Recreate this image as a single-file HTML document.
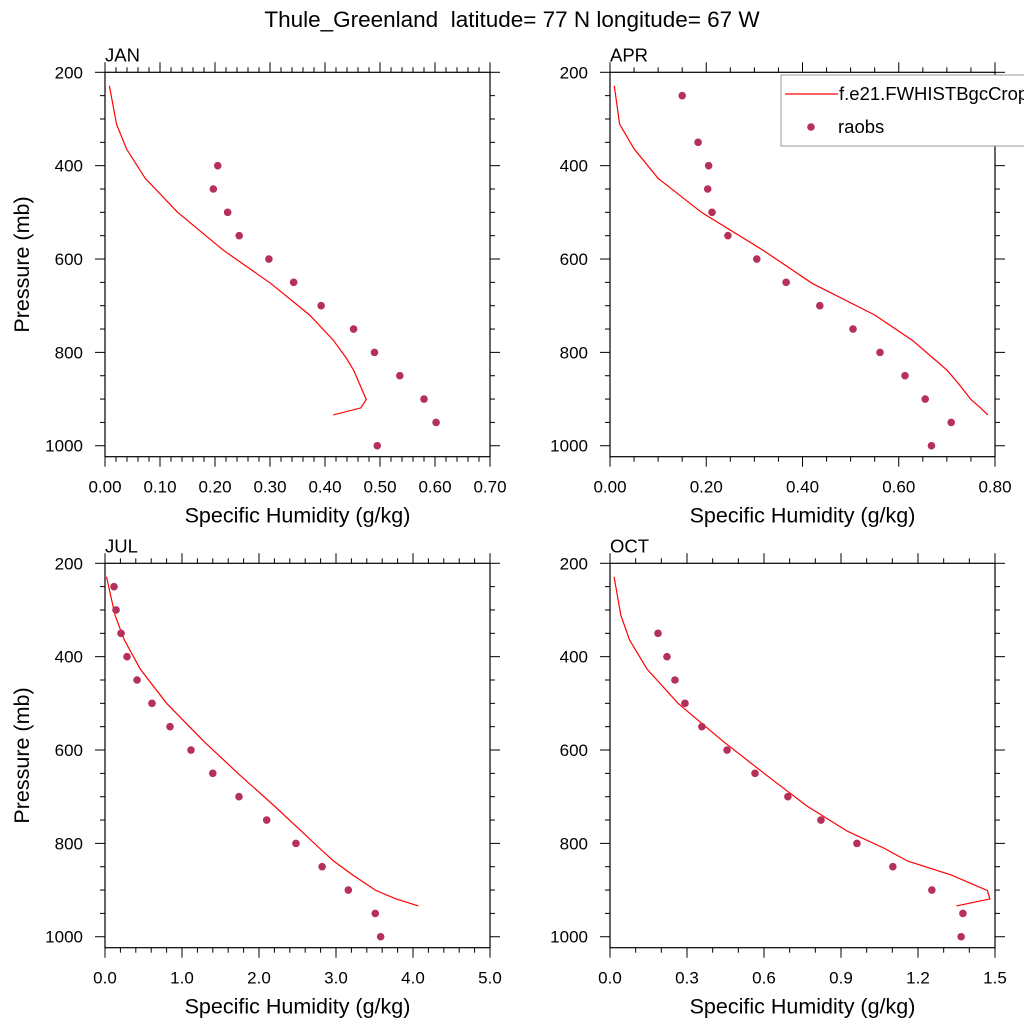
<!DOCTYPE html>
<html><head><meta charset="utf-8"><style>
body{margin:0;background:#fff;}
svg text{font-family:"Liberation Sans",sans-serif;fill:#000;white-space:pre;}
</style></head><body>
<svg id="chart" width="1024" height="1024" viewBox="0 0 1024 1024" xmlns="http://www.w3.org/2000/svg">
<text x="512" y="27" font-size="22.5" text-anchor="middle">Thule_Greenland&#160;&#160;latitude= 77 N longitude= 67 W</text>
</svg>
<script>
const modelLevels=[229,311,364,427,500,581,652,720,774,811,838,868,901,919,934];
const janModel=[0.008,0.021,0.039,0.073,0.132,0.215,0.301,0.372,0.415,0.438,0.452,0.463,0.475,0.465,0.415];
const aprModel=[0.009,0.02,0.05,0.10,0.19,0.318,0.42,0.55,0.628,0.67,0.70,0.725,0.75,0.77,0.785];
const julModel=[0.02,0.13,0.25,0.46,0.80,1.28,1.74,2.2,2.55,2.79,2.97,3.22,3.52,3.78,4.07];
const octModel=[0.016,0.042,0.076,0.145,0.265,0.44,0.605,0.767,0.925,1.07,1.16,1.33,1.47,1.48,1.35];
const janObsP=[400,450,500,550,600,650,700,750,800,850,900,950,1000];
const janObs=[0.205,0.197,0.223,0.244,0.298,0.343,0.393,0.452,0.490,0.536,0.580,0.602,0.495];
const aprObsP=[250,350,400,450,500,550,600,650,700,750,800,850,900,950,1000];
const aprObs=[0.150,0.183,0.205,0.203,0.212,0.245,0.305,0.366,0.436,0.505,0.561,0.613,0.655,0.709,0.668];
const julObsP=[250,300,350,400,450,500,550,600,650,700,750,800,850,900,950,1000];
const julObs=[0.117,0.143,0.208,0.286,0.416,0.61,0.844,1.117,1.40,1.74,2.10,2.48,2.82,3.16,3.51,3.58];
const octObsP=[350,400,450,500,550,600,650,700,750,800,850,900,950,1000];
const octObs=[0.187,0.222,0.253,0.292,0.358,0.456,0.565,0.693,0.822,0.962,1.102,1.254,1.375,1.368];
const yTicks=[200,400,600,800,1000];
const janXTicks=["0.00","0.10","0.20","0.30","0.40","0.50","0.60","0.70"];
const aprXTicks=["0.00","0.20","0.40","0.60","0.80"];
const julXTicks=["0.0","1.0","2.0","3.0","4.0","5.0"];
const octXTicks=["0.0","0.3","0.6","0.9","1.2","1.5"];

const NS="http://www.w3.org/2000/svg";
const svg=document.getElementById('chart');
function mk(tag,attrs,parent){const e=document.createElementNS(NS,tag);for(const k in attrs)e.setAttribute(k,attrs[k]);(parent||svg).appendChild(e);return e;}

function panel(name,x0,y0,xmax,xTicks,minorStep,model,obsP,obs,showYTitle){
  const W=385,H=384.4;
  const sx=v=>x0+v/xmax*W;
  const sy=p=>y0+(p-200)*0.4668;
  const g=mk('g',{});
  
  
  const t=mk('text',{x:x0,y:y0-11,'font-size':18.5},g);t.textContent=name;
  
  const fr=mk('rect',{x:x0,y:y0,width:W,height:H,fill:'none',stroke:'#000','stroke-width':1.2},g);
  
  for(let p=200;p<=1000;p+=50){
    const major=p%200===0, L=major?10:5, y=sy(p);
    mk('line',{x1:x0-L,x2:x0,y1:y,y2:y,stroke:'#000'},g);
    mk('line',{x1:x0+W,x2:x0+W+L,y1:y,y2:y,stroke:'#000'},g);
  }
  yTicks.forEach(p=>{const tt=mk('text',{x:x0-22,y:sy(p)+6,'font-size':17,'text-anchor':'end'},g);tt.textContent=p;
    });
  const nMinor=Math.round(xmax/minorStep);
  const majorStep=xmax/(xTicks.length-1);
  for(let i=0;i<=nMinor;i++){
    const v=i*minorStep, x=sx(v);
    const major=Math.abs(v/majorStep-Math.round(v/majorStep))<1e-6, L=major?10:5;
    mk('line',{x1:x,x2:x,y1:y0+H,y2:y0+H+L,stroke:'#000'},g);
    mk('line',{x1:x,x2:x,y1:y0-L,y2:y0,stroke:'#000'},g);
  }
  xTicks.forEach((lab,i)=>{const tt=mk('text',{x:sx(parseFloat(lab)),y:y0+H+36,'font-size':17,'text-anchor':'middle'},g);tt.textContent=lab;
    });
  const xt=mk('text',{x:x0+W/2,y:y0+H+66,'font-size':21.5,'text-anchor':'middle'},g);xt.textContent='Specific Humidity (g/kg)';
  
  if(showYTitle){const yt=mk('text',{x:0,y:0,'font-size':21.5,'text-anchor':'middle',transform:`translate(29,${y0+H/2}) rotate(-90)`},g);yt.textContent='Pressure (mb)';
    }
  const pts=model.map((v,i)=>sx(v).toFixed(1)+','+sy(modelLevels[i]).toFixed(1)).join(' ');
  const pl=mk('polyline',{points:pts,fill:'none',stroke:'#ff0000','stroke-width':1.2},g);
  
  obs.forEach((v,i)=>{const c=mk('circle',{cx:sx(v),cy:sy(obsP[i]),r:3.8,fill:'#b5305a'},g);
    });
}
panel('JAN',105,72.3,0.70,janXTicks,0.02,janModel,janObsP,janObs,true);
panel('APR',610,72.3,0.80,aprXTicks,0.05,aprModel,aprObsP,aprObs,false);
panel('JUL',105,563.3,5.0,julXTicks,0.2,julModel,julObsP,julObs,true);
panel('OCT',610,563.3,1.5,octXTicks,0.1,octModel,octObsP,octObs,false);

const lg=mk('g',{});

mk('rect',{x:781,y:75,width:260,height:71,fill:'#fff',stroke:'#999','stroke-width':1},lg);
mk('line',{x1:785,x2:838,y1:94,y2:94,stroke:'#ff0000','stroke-width':1.2},lg);
const l1=mk('text',{x:839,y:100,'font-size':18.5},lg);l1.textContent='f.e21.FWHISTBgcCrop';

mk('circle',{cx:811,cy:127,r:3.8,fill:'#b5305a'},lg);
const l2=mk('text',{x:838,y:133,'font-size':18.5},lg);l2.textContent='raobs';

</script>
</body></html>
